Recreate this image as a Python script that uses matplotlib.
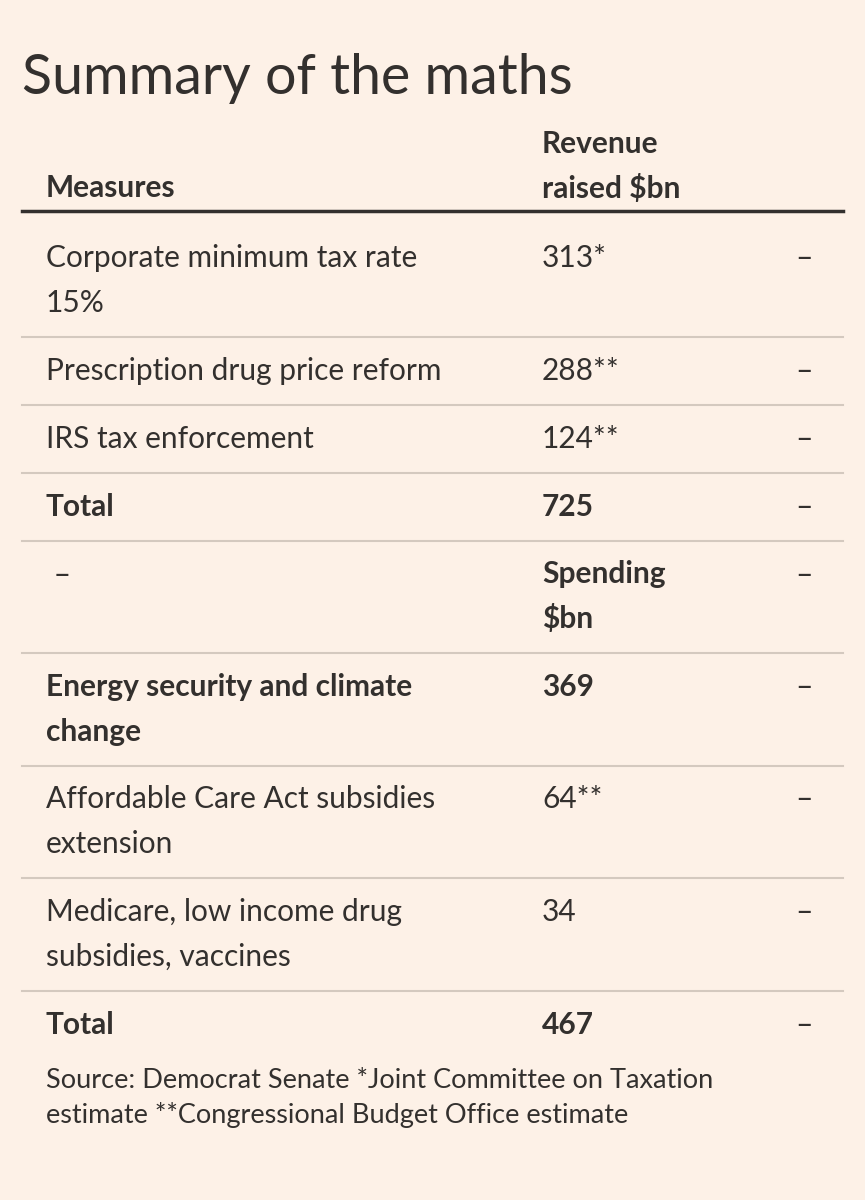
import matplotlib
matplotlib.use("Agg")
import matplotlib.pyplot as plt
from matplotlib.lines import Line2D

BG = "#fdf1e7"
INK = "#33302e"
RULE = "#d4c9bf"

title = "Summary of the maths"
header_measure = "Measures"
header_value = ["Revenue", "raised $bn"]
# (label lines, value lines, bold)
rows = [
    (["Corporate minimum tax rate", "15%"], ["313*"], False),
    (["Prescription drug price reform"], ["288**"], False),
    (["IRS tax enforcement"], ["124**"], False),
    (["Total"], ["725"], True),
    ([" \u2013"], ["Spending", "$bn"], "value"),
    (["Energy security and climate", "change"], ["369"], True),
    (["Affordable Care Act subsidies", "extension"], ["64**"], False),
    (["Medicare, low income drug", "subsidies, vaccines"], ["34"], False),
    (["Total"], ["467"], True),
]
source = ["Source: Democrat Senate *Joint Committee on Taxation",
          "estimate **Congressional Budget Office estimate"]

W, H = 865, 1200
fig = plt.figure(figsize=(W / 100, H / 100), dpi=100, facecolor=BG)
plt.rcParams["font.family"] = ["Lato", "DejaVu Sans"]


def px(x, y):
    return x / W, 1 - y / H


def txt(x, y, s, size=21.5, bold=False):
    fig.text(*px(x, y), s, fontsize=size, color=INK, va="center", ha="left",
             fontweight="bold" if bold else "normal")


def rule(y, color=RULE, lw=1.5):
    fig.add_artist(Line2D([22 / W, 843 / W], [1 - y / H] * 2, color=color, lw=lw))


fig.text(*px(22, 78), title, fontsize=40, color=INK, va="center", ha="left")
txt(46, 188, header_measure, bold=True)
txt(542, 144, header_value[0], bold=True)
txt(542, 188, header_value[1], bold=True)
rule(211, INK, 2.5)

LINE = 44.5
PAD = 34
y = 211
for k, (label, value, bold) in enumerate(rows):
    n = max(len(label), len(value))
    top = y + (47 if k == 0 else PAD)
    for i, s in enumerate(label):
        txt(46, top + i * LINE, s, bold=(bold is True))
    for i, s in enumerate(value):
        txt(542, top + i * LINE, s, bold=bool(bold))
    txt(795, top, "\u2013")
    y = top + (n - 1) * LINE + PAD
    if k < len(rows) - 1:
        rule(y)

txt(46, 1080, source[0], size=19.5)
txt(46, 1115, source[1], size=19.5)

fig.savefig("out.png", dpi=100, facecolor=BG)
